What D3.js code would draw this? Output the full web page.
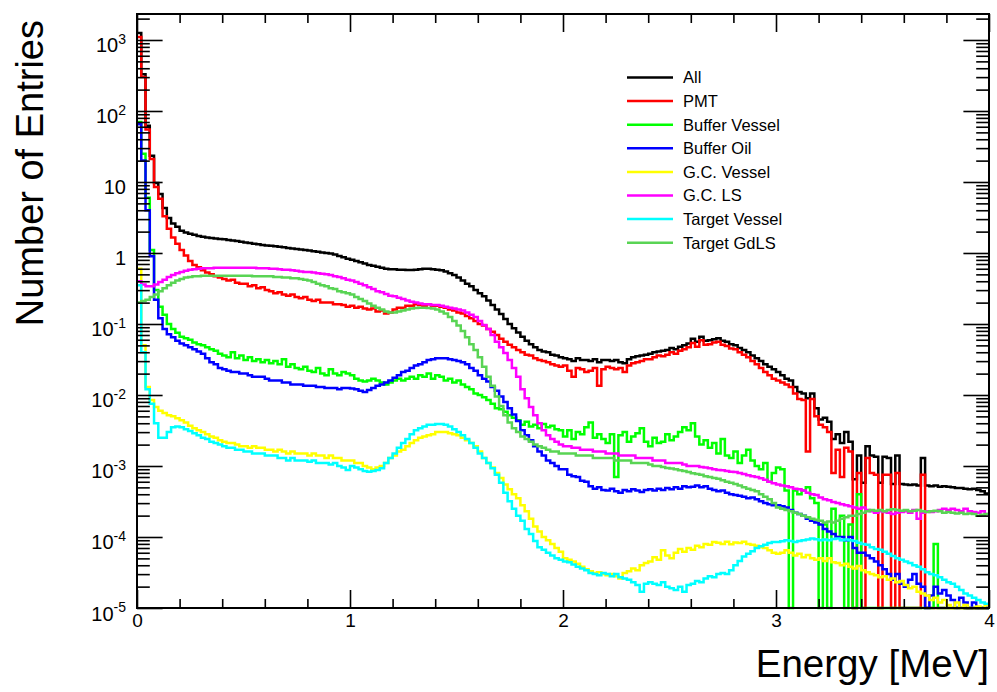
<!DOCTYPE html>
<html>
<head>
<meta charset="utf-8">
<script src="https://cdn.jsdelivr.net/npm/d3@7"></script>
<style>
  body { margin: 0; background: #fff; }
  svg { display: block; }
  text { font-family: "Liberation Sans", Arial, Helvetica, sans-serif; fill: #000; }
</style>
</head>
<body>
<svg id="chart" width="997" height="692"></svg>
<script>
// Energy histograms, 200 bins of 0.02 MeV from 0 to 4 MeV.
const binWidth = 0.02;
const energyMin = 0, energyMax = 4;

const allEvents = [
  1250, 330, 62, 23.5, 9.7, 6.8, 4.3, 3.1, 2.6, 2.35,
  2.05, 1.95, 1.87, 1.8, 1.74, 1.69, 1.65, 1.62, 1.6, 1.58,
  1.56, 1.53, 1.5, 1.47, 1.44, 1.41, 1.38, 1.35, 1.33, 1.3,
  1.28, 1.26, 1.24, 1.22, 1.2, 1.18, 1.16, 1.14, 1.12, 1.1,
  1.08, 1.06, 1.04, 1.02, 1.0, 0.98, 0.95, 0.91, 0.87, 0.83,
  0.8, 0.77, 0.74, 0.71, 0.68, 0.66, 0.64, 0.62, 0.6, 0.59,
  0.59, 0.58, 0.58, 0.575, 0.575, 0.58, 0.59, 0.6, 0.6, 0.59,
  0.58, 0.57, 0.55, 0.52, 0.49, 0.45, 0.41, 0.37, 0.34, 0.3,
  0.27, 0.245, 0.215, 0.185, 0.16, 0.138, 0.118, 0.1, 0.087, 0.076,
  0.066, 0.058, 0.052, 0.047, 0.043, 0.041, 0.04, 0.037, 0.036, 0.034,
  0.033, 0.032, 0.03, 0.033, 0.031, 0.031, 0.03, 0.032, 0.029, 0.031,
  0.031, 0.03, 0.031, 0.029, 0.028, 0.032, 0.034, 0.035, 0.036, 0.037,
  0.038, 0.04, 0.041, 0.042, 0.043, 0.046, 0.044, 0.048, 0.05, 0.053,
  0.062, 0.056, 0.066, 0.058, 0.059, 0.061, 0.063, 0.058, 0.056, 0.052,
  0.05, 0.046, 0.043, 0.04, 0.036, 0.033, 0.03, 0.027, 0.025, 0.023,
  0.021, 0.019, 0.017, 0.016, 0.013, 0.011, 0.0105, 0.009, 0.0105, 0.0065,
  0.0045, 0.0048, 0.0042, 0.0024, 0.0028, 0.0021, 0.003, 0.0022, 0.00065, 0.0014,
  0.00058, 0.0019, 0.0014, 0.00135, 0.00058, 0.00135, 0.0013, 0.00056, 0.0014, 0.00056,
  0.00055, 0.00054, 0.00055, 0.00053, 0.0013, 0.00053, 0.00052, 0.00053, 0.00051, 0.00052,
  0.00051, 0.0005, 0.00049, 0.00049, 0.00048, 0.00047, 0.00048, 0.00046, 0.00044, 0.00041
];

const pmt = [
  1100, 300, 55, 21, 8.5, 5.8, 3.3, 2.2, 1.65, 1.35,
  1.1, 0.92, 0.77, 0.68, 0.63, 0.57, 0.53, 0.5, 0.47, 0.45,
  0.43, 0.41, 0.42, 0.38, 0.37, 0.37, 0.34, 0.35, 0.32, 0.33,
  0.3, 0.29, 0.27, 0.28, 0.26, 0.25, 0.26, 0.24, 0.23, 0.24,
  0.22, 0.21, 0.22, 0.2, 0.2, 0.2, 0.19, 0.19, 0.185, 0.175,
  0.18, 0.17, 0.175, 0.165, 0.16, 0.165, 0.15, 0.155, 0.14, 0.145,
  0.16, 0.17, 0.17, 0.18, 0.18, 0.19, 0.185, 0.18, 0.19, 0.18,
  0.18, 0.175, 0.17, 0.16, 0.155, 0.145, 0.14, 0.13, 0.12, 0.11,
  0.1, 0.095, 0.085, 0.078, 0.07, 0.062, 0.056, 0.051, 0.047, 0.043,
  0.04, 0.037, 0.036, 0.033, 0.031, 0.03, 0.029, 0.027, 0.026, 0.025,
  0.026, 0.022, 0.018, 0.024, 0.023, 0.021, 0.022, 0.024, 0.0135, 0.023,
  0.025, 0.024, 0.023, 0.024, 0.021, 0.026, 0.028, 0.029, 0.03, 0.032,
  0.032, 0.034, 0.036, 0.035, 0.037, 0.04, 0.038, 0.042, 0.044, 0.047,
  0.054, 0.048, 0.059, 0.051, 0.052, 0.055, 0.056, 0.051, 0.049, 0.045,
  0.044, 0.04, 0.037, 0.034, 0.03, 0.027, 0.024, 0.021, 0.019, 0.017,
  0.016, 0.015, 0.014, 0.013, 0.0105, 0.0088, 0.0085, 0.0016, 0.0088, 0.005,
  0.0038, 0.0035, 0.003, 0.0008, 0.0017, 0.0007, 0.0018, 0.0016, 0, 0.0008,
  0, 0.0013, 0.0008, 0.00075, 0, 0.00075, 0.00075, 0, 0.0008, 0,
  0, 0, 0, 0, 0.00075, 0, 0, 0, 0, 0,
  0, 0, 0, 0, 0, 0, 0, 0, 0, 0
];

const bufferVessel = [
  70, 25, 6, 1.1, 0.3, 0.175, 0.135, 0.1, 0.085, 0.075,
  0.066, 0.063, 0.06, 0.055, 0.052, 0.05, 0.047, 0.044, 0.042, 0.038,
  0.036, 0.034, 0.04, 0.033, 0.036, 0.031, 0.034, 0.03, 0.032, 0.029,
  0.031, 0.028, 0.03, 0.027, 0.032, 0.025, 0.027, 0.024, 0.023, 0.025,
  0.022, 0.021, 0.024, 0.02, 0.019, 0.023, 0.02, 0.019, 0.021, 0.02,
  0.019, 0.017, 0.016, 0.0155, 0.016, 0.017, 0.016, 0.015, 0.014, 0.015,
  0.016, 0.017, 0.016, 0.017, 0.018, 0.017, 0.019, 0.018, 0.02, 0.017,
  0.019, 0.018, 0.016, 0.017, 0.015, 0.016, 0.014, 0.013, 0.012, 0.0105,
  0.01, 0.0093, 0.0085, 0.0075, 0.0065, 0.0063, 0.0058, 0.0052, 0.0048, 0.0044,
  0.0038, 0.0042, 0.0036, 0.0038, 0.0034, 0.0039, 0.0035, 0.0037, 0.0033, 0.0032,
  0.0026, 0.0032, 0.0024, 0.003, 0.0028, 0.0035, 0.0041, 0.0025, 0.0028, 0.0024,
  0.0021, 0.0028, 0.0007, 0.0027, 0.003, 0.0022, 0.0026, 0.0029, 0.0034, 0.0022,
  0.0019, 0.0025, 0.0021, 0.0022, 0.0028, 0.0023, 0.0026, 0.003, 0.0035, 0.0032,
  0.004, 0.0026, 0.002, 0.0023, 0.0018, 0.0021, 0.0015, 0.0024, 0.0014, 0.0013,
  0.0016, 0.0011, 0.0014, 0.0017, 0.0012, 0.001, 0.0009, 0.0011, 0.0006, 0.0008,
  0.00095, 0.0009, 0.00045, 0, 0.00045, 0.0004, 0.00045, 0.0005, 0.00035, 0.0003,
  0, 0.00015, 0, 0.00025, 0.0001, 0.0002, 0, 0.00015, 0, 0.0004,
  0, 0, 0, 0, 0, 0, 0, 0, 0, 0,
  0, 0, 0, 0, 0, 0, 0, 0.00008, 0, 0,
  0, 0, 0, 0, 0, 0, 0, 0, 0, 0
];

const bufferOil = [
  65, 20, 4, 0.9, 0.22, 0.12, 0.085, 0.072, 0.065, 0.058,
  0.053, 0.05, 0.047, 0.044, 0.041, 0.038, 0.033, 0.029, 0.027, 0.024,
  0.023, 0.022, 0.021, 0.021, 0.02, 0.02, 0.019, 0.018, 0.018, 0.018,
  0.017, 0.016, 0.016, 0.016, 0.015, 0.015, 0.014, 0.014, 0.014, 0.0135,
  0.0135, 0.0135, 0.013, 0.013, 0.0125, 0.0125, 0.0125, 0.012, 0.0125, 0.0125,
  0.0123, 0.012, 0.0115, 0.011, 0.0118, 0.0125, 0.0135, 0.014, 0.015, 0.016,
  0.0175, 0.019, 0.021, 0.022, 0.024, 0.026, 0.027, 0.029, 0.031, 0.032,
  0.033, 0.033, 0.033, 0.032, 0.031, 0.03, 0.029, 0.027, 0.024, 0.022,
  0.019, 0.017, 0.0155, 0.013, 0.0115, 0.0095, 0.008, 0.0065, 0.0053, 0.0043,
  0.0032, 0.0027, 0.0023, 0.0019, 0.0016, 0.0014, 0.0012, 0.0011, 0.001, 0.0009,
  0.0009, 0.00075, 0.00072, 0.0007, 0.00062, 0.0006, 0.00052, 0.00048, 0.0005, 0.00046,
  0.00045, 0.00048, 0.00044, 0.00042, 0.00046, 0.00044, 0.00047, 0.00045, 0.00043, 0.00046,
  0.00047, 0.00045, 0.00048, 0.00046, 0.00049, 0.00047, 0.0005, 0.00048, 0.00052, 0.0005,
  0.00051, 0.00053, 0.0005, 0.00052, 0.00048, 0.00046, 0.00044, 0.00045, 0.00042, 0.0004,
  0.00039, 0.00038, 0.00037, 0.00035, 0.00036, 0.00034, 0.00032, 0.0003, 0.00029, 0.00028,
  0.00028, 0.00027, 0.00026, 0.00024, 0.00022, 0.00021, 0.0002, 0.00018, 0.00017, 0.00016,
  0.00015, 0.00013, 0.00012, 0.00011, 0.0001, 0.0001, 0.00009, 0.0001, 0.00007, 0.00006,
  0.00006, 0.000055, 0.00005, 0.000045, 0.00004, 0.000035, 0.00003, 0.000025, 0.00003, 0.000022,
  0.00002, 0.000025, 0.00003, 0.000022, 0.00002, 0, 0.000015, 0.00002, 0.000016, 0.000018,
  0.000015, 0.000013, 0, 0.000014, 0.000012, 0, 0.000012, 0, 0, 0
];

const gcVessel = [
  0.6, 0.05, 0.013, 0.0085, 0.0068, 0.006, 0.0056, 0.0052, 0.005, 0.0047,
  0.0044, 0.0041, 0.0037, 0.0034, 0.0032, 0.003, 0.0028, 0.0026, 0.0025, 0.0023,
  0.0022, 0.0021, 0.0021, 0.002, 0.0019, 0.0019, 0.0018, 0.0019, 0.0018, 0.0018,
  0.0017, 0.0017, 0.0016, 0.0017, 0.0016, 0.0015, 0.0016, 0.0015, 0.0015, 0.0015,
  0.0014, 0.0015, 0.0014, 0.0014, 0.0013, 0.0014, 0.0013, 0.0013, 0.0012, 0.0012,
  0.0012, 0.0011, 0.0011, 0.001, 0.00095, 0.0009, 0.00095, 0.001, 0.0011, 0.0013,
  0.0014, 0.0016, 0.0017, 0.0019, 0.0021, 0.0023, 0.0025, 0.0026, 0.0027, 0.0028,
  0.003, 0.003, 0.003, 0.0029, 0.0028, 0.0027, 0.0025, 0.0023, 0.0021, 0.0019,
  0.0016, 0.0013, 0.0011, 0.00095, 0.0008, 0.00068, 0.00055, 0.00047, 0.0004, 0.00035,
  0.00028, 0.00023, 0.00018, 0.00014, 0.00012, 0.0001, 0.00009, 0.00008, 0.00007, 0.000062,
  0.00005, 0.000048, 0.000045, 0.000042, 0.000038, 0.000035, 0.000033, 0.000031, 0.000032, 0.00003,
  0.000029, 0.00003, 0.000028, 0.000026, 0.000031, 0.000033, 0.000036, 0.000034, 0.00004, 0.000043,
  0.000045, 0.000052, 0.000048, 0.000065, 0.000055, 0.00005, 0.00006, 0.000068, 0.000062, 0.00007,
  0.000066, 0.000075, 0.000072, 0.00008, 0.000078, 0.000085, 0.000083, 0.00008, 0.000086, 0.000079,
  0.000084, 0.000082, 0.000086, 0.00008, 0.000078, 0.000075, 0.000072, 0.00007, 0.000065, 0.00006,
  0.000058, 0.00006, 0.000065, 0.00006, 0.000055, 0.000058, 0.000052, 0.000056, 0.00005, 0.000048,
  0.00005, 0.000046, 0.00005, 0.000044, 0.000043, 0.00004, 0.000042, 0.000038, 0.000036, 0.000039,
  0.000034, 0.000032, 0.00003, 0.000029, 0.000027, 0.000028, 0.000025, 0.000026, 0.000023, 0.000024,
  0.000021, 0.000019, 0.00002, 0.000017, 0.000016, 0.000015, 0.000013, 0.000014, 0.000012, 0.000013,
  0.000011, 0, 0.000012, 0, 0.000011, 0, 0, 0.0000105, 0, 0.000011
];

const gcLS = [
  0.4, 0.36, 0.34, 0.34, 0.36, 0.39, 0.42, 0.46, 0.49, 0.52,
  0.54, 0.56, 0.58, 0.59, 0.6, 0.61, 0.61, 0.61, 0.62, 0.62,
  0.62, 0.62, 0.62, 0.62, 0.62, 0.62, 0.62, 0.62, 0.61, 0.61,
  0.61, 0.6, 0.6, 0.59, 0.58, 0.58, 0.57, 0.56, 0.55, 0.54,
  0.54, 0.53, 0.52, 0.51, 0.5, 0.49, 0.47, 0.46, 0.44, 0.42,
  0.41, 0.39, 0.37, 0.35, 0.33, 0.31, 0.29, 0.28, 0.265, 0.25,
  0.245, 0.235, 0.225, 0.215, 0.205, 0.2, 0.195, 0.19, 0.19, 0.185,
  0.185, 0.18, 0.175, 0.17, 0.165, 0.16, 0.155, 0.145, 0.135, 0.125,
  0.11, 0.097, 0.085, 0.07, 0.056, 0.047, 0.039, 0.031, 0.024, 0.018,
  0.012, 0.009, 0.0068, 0.0052, 0.004, 0.0032, 0.0027, 0.0024, 0.0022, 0.002,
  0.0019, 0.0019, 0.0018, 0.0018, 0.0017, 0.0017, 0.0017, 0.0016, 0.0016, 0.0016,
  0.0015, 0.0015, 0.0015, 0.0014, 0.0014, 0.0014, 0.0014, 0.0013, 0.0013, 0.0013,
  0.0013, 0.0012, 0.0012, 0.0012, 0.0011, 0.0011, 0.0011, 0.0011, 0.00105, 0.001,
  0.001, 0.001, 0.00097, 0.00095, 0.00093, 0.0009, 0.00088, 0.00087, 0.00085, 0.00083,
  0.00082, 0.0008, 0.00077, 0.00074, 0.00072, 0.0007, 0.00067, 0.00064, 0.0006, 0.00057,
  0.00055, 0.00053, 0.00052, 0.0005, 0.00048, 0.00047, 0.00045, 0.00042, 0.0004, 0.00039,
  0.00036, 0.00034, 0.00033, 0.00031, 0.0003, 0.00029, 0.00028, 0.00027, 0.00026, 0.00025,
  0.00026, 0.00024, 0.00023, 0.00022, 0.00023, 0.000225, 0.00022, 0.00021, 0.00022, 0.000225,
  0.00023, 0.00022, 0.00024, 0.00018, 0.00022, 0.00023, 0.000225, 0.00023, 0.00024, 0.00025,
  0.00024, 0.00025, 0.00024, 0.00023, 0.00025, 0.00023, 0.000225, 0.00022, 0.00023, 0.00021
];

const targetVessel = [
  0.35, 0.04, 0.012, 0.0075, 0.004, 0.0025, 0.0025, 0.003, 0.0035, 0.0036,
  0.0035, 0.0033, 0.0031, 0.0029, 0.0027, 0.0025, 0.0024, 0.0022, 0.0021, 0.002,
  0.0019, 0.0018, 0.0018, 0.0017, 0.0017, 0.0016, 0.0016, 0.0015, 0.0015, 0.0015,
  0.0014, 0.0014, 0.0014, 0.0013, 0.0013, 0.0012, 0.0013, 0.0012, 0.0012, 0.0012,
  0.00115, 0.0012, 0.0011, 0.0011, 0.0011, 0.00105, 0.0011, 0.001, 0.00095, 0.00088,
  0.001, 0.00095, 0.0009, 0.00085, 0.00083, 0.00085, 0.00088, 0.00093, 0.0011, 0.0013,
  0.0015, 0.0018, 0.0021, 0.0024, 0.0028, 0.0032, 0.0034, 0.0036, 0.0038, 0.0038,
  0.0039, 0.0039, 0.0038, 0.0036, 0.0033, 0.003, 0.0027, 0.0024, 0.0021, 0.0018,
  0.0015, 0.0013, 0.0011, 0.00093, 0.00075, 0.00058, 0.00042, 0.00032, 0.00025, 0.0002,
  0.00017, 0.00013, 0.00011, 0.000088, 0.000072, 0.000066, 0.00006, 0.000055, 0.00005, 0.000048,
  0.000045, 0.000044, 0.000041, 0.000038, 0.000036, 0.000034, 0.000031, 0.00003, 0.000029, 0.000031,
  0.00003, 0.000028, 0.00003, 0.000027, 0.000026, 0.000025, 0.000023, 0.000021, 0.000017, 0.000022,
  0.000023, 0.000022, 0.000021, 0.000023, 0.00002, 0.000019, 0.000018, 0.00002, 0.000017, 0.000021,
  0.000022, 0.000024, 0.000023, 0.000026, 0.000028, 0.000027, 0.00003, 0.000031, 0.00003, 0.000034,
  0.00004, 0.000046, 0.000053, 0.000058, 0.000063, 0.00007, 0.000074, 0.000078, 0.000082, 0.000085,
  0.000085, 0.000087, 0.00009, 0.000088, 0.000085, 0.000088, 0.00009, 0.000092, 0.000095, 0.000093,
  0.00009, 0.000092, 0.00009, 0.000094, 0.000095, 0.00009, 0.000092, 0.00009, 0.000088, 0.000083,
  0.00008, 0.000078, 0.000072, 0.000068, 0.000066, 0.000062, 0.000058, 0.000054, 0.00005, 0.000048,
  0.000045, 0.000043, 0.00004, 0.000038, 0.000035, 0.000032, 0.00003, 0.000029, 0.000027, 0.000025,
  0.000023, 0.000022, 0.00002, 0.000018, 0.000016, 0.000015, 0.000014, 0.000013, 0.000012, 0.0000115
];

const targetGdLS = [
  0.2, 0.21, 0.22, 0.24, 0.26, 0.29, 0.32, 0.35, 0.38, 0.41,
  0.43, 0.45, 0.46, 0.47, 0.47, 0.48, 0.48, 0.48, 0.48, 0.48,
  0.48, 0.48, 0.48, 0.48, 0.48, 0.48, 0.48, 0.47, 0.47, 0.47,
  0.47, 0.47, 0.46, 0.46, 0.45, 0.45, 0.44, 0.44, 0.43, 0.42,
  0.41, 0.39, 0.37, 0.35, 0.34, 0.32, 0.31, 0.29, 0.28, 0.27,
  0.26, 0.24, 0.225, 0.21, 0.195, 0.18, 0.17, 0.16, 0.15, 0.145,
  0.145, 0.15, 0.155, 0.16, 0.165, 0.168, 0.17, 0.17, 0.168, 0.165,
  0.16, 0.15, 0.14, 0.125, 0.11, 0.095, 0.08, 0.065, 0.052, 0.043,
  0.034, 0.025, 0.018, 0.0135, 0.0095, 0.007, 0.0052, 0.0041, 0.0034, 0.003,
  0.0026, 0.0024, 0.0022, 0.002, 0.0019, 0.0018, 0.0017, 0.0016, 0.0016, 0.0015,
  0.0015, 0.0015, 0.0015, 0.0014, 0.0014, 0.0014, 0.0014, 0.0013, 0.0013, 0.0013,
  0.0013, 0.0013, 0.0012, 0.0012, 0.0012, 0.0012, 0.0011, 0.0011, 0.0011, 0.0011,
  0.00105, 0.001, 0.001, 0.00097, 0.00094, 0.00092, 0.0009, 0.00087, 0.00085, 0.00082,
  0.00079, 0.00077, 0.00075, 0.00072, 0.0007, 0.00068, 0.00066, 0.00063, 0.0006, 0.00058,
  0.00056, 0.00053, 0.0005, 0.00048, 0.00046, 0.00044, 0.0004, 0.00037, 0.00034, 0.0003,
  0.00026, 0.00025, 0.00024, 0.00023, 0.00022, 0.00021, 0.0002, 0.00019, 0.00018, 0.000175,
  0.00017, 0.00016, 0.000165, 0.00016, 0.00017, 0.00018, 0.00019, 0.0002, 0.0002, 0.00021,
  0.00022, 0.00023, 0.00024, 0.000235, 0.00024, 0.00023, 0.00024, 0.000245, 0.00024, 0.000235,
  0.00024, 0.00023, 0.000235, 0.00024, 0.00023, 0.000225, 0.00023, 0.000235, 0.00023, 0.00022,
  0.000225, 0.00022, 0.000215, 0.00022, 0.00021, 0.000215, 0.00021, 0.0002, 0.000205, 0.00021
];

const seriesNames = ["All", "PMT", "Buffer Vessel", "Buffer Oil", "G.C. Vessel", "G.C. LS", "Target Vessel", "Target GdLS"];
const seriesValues = [allEvents, pmt, bufferVessel, bufferOil, gcVessel, gcLS, targetVessel, targetGdLS];
const seriesColors = ["#000000", "#ff0000", "#00ff00", "#0000ff", "#ffff00", "#ff00ff", "#00ffff", "#59d454"];

const xMajorTicks = [0, 1, 2, 3, 4];
const xMinorTicks = d3.range(0, 4.0001, 0.2).filter(v => Math.abs(v - Math.round(v)) > 1e-6);
const yDecades = [-5, -4, -3, -2, -1, 0, 1, 2, 3];
const yMax = 2323;

// ---- layout ----
const frame = { left: 137, right: 989, top: 14, bottom: 608 };
const svg = d3.select("#chart");

const x = d3.scaleLinear().domain([energyMin, energyMax]).range([frame.left, frame.right]);
const y = d3.scaleLog().domain([1e-5, yMax]).range([frame.bottom, frame.top]);

const yMajorValues = yDecades.map(d => Math.pow(10, d));
const yMinorValues = [];
yDecades.forEach(d => {
  for (let k = 2; k <= 9; k++) {
    const v = k * Math.pow(10, d);
    if (v < yMax) yMinorValues.push(v);
  }
});

// ---- histograms (drawn in legend order, later ones on top) ----
const stepLine = d3.line().x(d => d[0]).y(d => d[1]);
const yOf = v => (v > 0 ? y(v) : frame.bottom);

const plot = svg.append("g");
seriesValues.forEach((vals, si) => {
  const pts = [];
  vals.forEach((v, i) => {
    const x0 = x(energyMin + i * binWidth);
    const x1 = x(energyMin + (i + 1) * binWidth);
    pts.push([x0, yOf(v)], [x1, yOf(v)]);
  });
  plot.append("path")
    .attr("d", stepLine(pts))
    .attr("fill", "none")
    .attr("stroke", seriesColors[si])
    .attr("stroke-width", 2.5)
    .attr("stroke-linejoin", "miter");
});

// ---- frame and axes ----
svg.append("rect")
  .attr("x", frame.left).attr("y", frame.top)
  .attr("width", frame.right - frame.left).attr("height", frame.bottom - frame.top)
  .attr("fill", "none").attr("stroke", "#000").attr("stroke-width", 2);

const xTickLen = 18, yTickLen = 25.6;

function styleAxis(g) {
  g.select(".domain").remove();
  g.selectAll(".tick line").attr("stroke", "#000").attr("stroke-width", 1.6);
}

// bottom axis
svg.append("g").attr("transform", `translate(0,${frame.bottom})`)
  .call(d3.axisBottom(x).tickValues(xMajorTicks).tickSizeInner(-xTickLen).tickSizeOuter(0)
    .tickPadding(6).tickFormat(d3.format("d")))
  .call(styleAxis)
  .call(g => g.selectAll("text").attr("font-size", 19).attr("font-family", "Liberation Sans, Arial, sans-serif"));
svg.append("g").attr("transform", `translate(0,${frame.bottom})`)
  .call(d3.axisBottom(x).tickValues(xMinorTicks).tickSizeInner(-xTickLen / 2).tickSizeOuter(0).tickFormat(""))
  .call(styleAxis);

// top axis
svg.append("g").attr("transform", `translate(0,${frame.top})`)
  .call(d3.axisTop(x).tickValues(xMajorTicks).tickSizeInner(-xTickLen).tickSizeOuter(0).tickFormat(""))
  .call(styleAxis);
svg.append("g").attr("transform", `translate(0,${frame.top})`)
  .call(d3.axisTop(x).tickValues(xMinorTicks).tickSizeInner(-xTickLen / 2).tickSizeOuter(0).tickFormat(""))
  .call(styleAxis);

// left axis with power-of-ten labels
const leftAxis = svg.append("g").attr("transform", `translate(${frame.left},0)`)
  .call(d3.axisLeft(y).tickValues(yMajorValues).tickSizeInner(-yTickLen).tickSizeOuter(0)
    .tickPadding(11).tickFormat(() => ""))
  .call(styleAxis);
leftAxis.selectAll(".tick text").each(function(d) {
  const e = Math.round(Math.log10(d));
  const t = d3.select(this).attr("font-size", 20).attr("dy", "0.6em")
    .attr("font-family", "Liberation Sans, Arial, sans-serif");
  t.text(null);
  if (e === 0) {
    t.append("tspan").text("1");
  } else if (e === 1) {
    t.append("tspan").text("10");
  } else {
    t.append("tspan").text("10");
    t.append("tspan").attr("font-size", 14).attr("dy", "-0.62em").text(String(e));
  }
});
svg.append("g").attr("transform", `translate(${frame.left},0)`)
  .call(d3.axisLeft(y).tickValues(yMinorValues).tickSizeInner(-yTickLen / 2).tickSizeOuter(0).tickFormat(""))
  .call(styleAxis);

// right axis
svg.append("g").attr("transform", `translate(${frame.right},0)`)
  .call(d3.axisRight(y).tickValues(yMajorValues).tickSizeInner(-yTickLen).tickSizeOuter(0).tickFormat(""))
  .call(styleAxis);
svg.append("g").attr("transform", `translate(${frame.right},0)`)
  .call(d3.axisRight(y).tickValues(yMinorValues).tickSizeInner(-yTickLen / 2).tickSizeOuter(0).tickFormat(""))
  .call(styleAxis);

// axis titles
svg.append("text")
  .attr("x", frame.right).attr("y", 677)
  .attr("text-anchor", "end").attr("font-size", 38.5)
  .text("Energy [MeV]");
svg.append("text")
  .attr("transform", "translate(43,20) rotate(-90)")
  .attr("text-anchor", "end").attr("font-size", 38)
  .text("Number of Entries");

// ---- legend ----
const legend = svg.append("g");
seriesNames.forEach((name, i) => {
  const cy = 77.5 + i * 23.6;
  legend.append("line")
    .attr("x1", 627).attr("x2", 673).attr("y1", cy).attr("y2", cy)
    .attr("stroke", seriesColors[i]).attr("stroke-width", 2.5);
  legend.append("text")
    .attr("x", 683).attr("y", cy + 5.9)
    .attr("font-size", 16.5)
    .text(name);
});
</script>
</body>
</html>
